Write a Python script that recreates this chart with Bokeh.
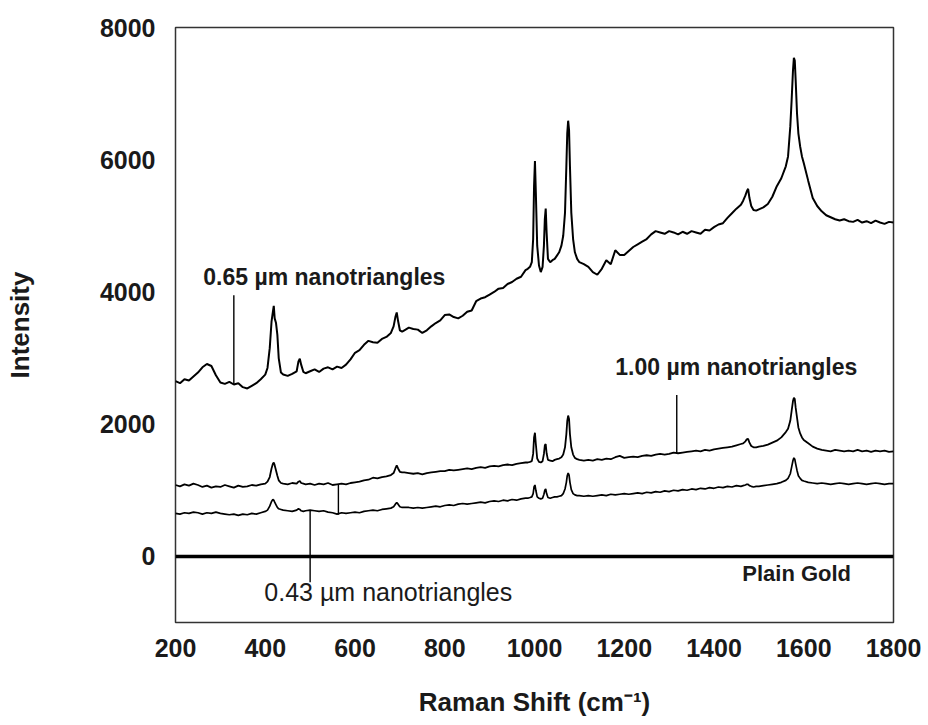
from bokeh.plotting import figure
from bokeh.models import Label, FixedTicker, Range1d
from bokeh.embed import file_html
from bokeh.resources import INLINE

# Raman shift grid (cm^-1), denser around the bands
shift = [
    200, 210, 220, 230, 240, 250, 260, 270, 280, 290, 300, 310, 320, 330, 340, 350, 360, 370, 380, 390, 400,
    405, 410, 414, 417, 419, 421, 424, 427, 430, 435, 440,
    450, 460, 470, 474, 477, 480, 485, 490,
    500, 510, 520, 530, 540, 550, 560, 570, 580, 590, 600, 610, 620, 630, 640, 650, 660, 670, 680,
    686, 690, 693, 696, 700, 705, 710,
    720, 730, 740, 750, 760, 770, 780, 790, 800, 810, 820, 830, 840, 850, 860, 870, 880, 890, 900, 910, 920, 930, 940, 950, 960, 970, 980,
    985, 990, 994, 997, 999, 1001, 1003, 1006, 1010, 1014, 1018, 1021, 1023, 1025, 1027, 1030, 1035, 1040, 1045, 1050, 1055, 1060, 1064, 1068, 1071, 1073, 1075, 1077, 1079, 1082, 1086, 1090, 1095,
    1100, 1110, 1120, 1130, 1140, 1150, 1160, 1170, 1180, 1190, 1200, 1210, 1220, 1230, 1240, 1250, 1260, 1270, 1280, 1290, 1300, 1310, 1320, 1330, 1340, 1350, 1360, 1370, 1380, 1390, 1400, 1410, 1420, 1430, 1440, 1450, 1460,
    1465, 1470, 1473, 1476, 1479, 1483, 1488, 1494,
    1500, 1510, 1520, 1530, 1540, 1550, 1560,
    1565, 1570, 1573, 1576, 1578, 1580, 1582, 1585, 1588, 1592, 1596,
    1600, 1610, 1620, 1630, 1640, 1650, 1660, 1670, 1680, 1690, 1700, 1710, 1720, 1730, 1740, 1750, 1760, 1770, 1780, 1790, 1800,
]

# 0.65 um nanotriangles
counts_065 = [
    2650, 2620, 2680, 2660, 2720, 2780, 2860, 2910, 2880, 2740, 2630, 2610, 2640, 2600, 2620, 2560, 2540, 2580, 2620, 2680, 2750,
    2850, 3150, 3550, 3700, 3790, 3600, 3530, 3350, 3000, 2780, 2750,
    2730, 2760, 2800, 2950, 2990, 2900, 2790, 2770,
    2800, 2830, 2790, 2840, 2860, 2830, 2870, 2850, 2900, 2980, 3080, 3120, 3200, 3260, 3240, 3230, 3290, 3320, 3380,
    3480, 3620, 3690, 3560, 3420, 3400, 3420,
    3460, 3440, 3430, 3380, 3420, 3480, 3530, 3570, 3650, 3660, 3620, 3600, 3640, 3700, 3720, 3860, 3900, 3920, 3960, 4000, 4050, 4060, 4120, 4150, 4200, 4230, 4330,
    4350, 4380, 4450, 4800, 5600, 5980, 5500, 4700, 4400, 4300, 4380, 4700, 5100, 5260, 4900, 4500, 4450, 4480, 4500, 4550, 4600, 4700, 4850, 5200, 5900, 6400, 6590, 6450, 5900, 5200, 4800, 4600, 4500,
    4450, 4420, 4380, 4300, 4260, 4350, 4480, 4420, 4630, 4560, 4560, 4620, 4680, 4720, 4760, 4800, 4870, 4920, 4900, 4880, 4920, 4900, 4870, 4910, 4880, 4920, 4900, 4880, 4940, 4930, 4980, 5020, 5040, 5120, 5190, 5260, 5320,
    5380, 5460, 5520, 5560, 5420, 5300, 5240, 5230,
    5250, 5280, 5330, 5440, 5600, 5720, 5900,
    6050, 6500, 6900, 7350, 7540, 7500, 7200, 6700, 6400, 6200, 6050,
    5950, 5680, 5420, 5300, 5220, 5160, 5130, 5100, 5080, 5100, 5070, 5060, 5090, 5050, 5070, 5040, 5080, 5050, 5030, 5060, 5050,
]

# 1.00 um nanotriangles
counts_100 = [
    1080, 1060, 1090, 1070, 1100, 1080, 1050, 1070, 1040, 1060, 1050, 1080, 1060, 1040, 1070, 1050, 1060, 1080, 1070, 1090, 1100,
    1130, 1200, 1330, 1400, 1420, 1380, 1300, 1220, 1150, 1110, 1100,
    1090, 1110, 1100, 1130, 1140, 1110, 1100, 1090,
    1100, 1080, 1100, 1090, 1110, 1080, 1090, 1100, 1090, 1110, 1120, 1130, 1150, 1160, 1190, 1180, 1200, 1210, 1230,
    1260, 1330, 1375, 1330, 1280, 1270, 1270,
    1260, 1250, 1260, 1240, 1260, 1270, 1280, 1290, 1290, 1310, 1300, 1310, 1320, 1330, 1320, 1340, 1350, 1340, 1360, 1370, 1360, 1380, 1390, 1380, 1400, 1410, 1420,
    1420, 1430, 1440, 1550, 1800, 1870, 1700, 1480, 1430, 1420, 1440, 1550, 1680, 1700, 1560, 1460, 1450, 1440, 1460, 1470, 1480, 1500, 1540, 1650, 1850, 2050, 2130, 2080, 1850, 1650, 1540, 1490, 1470,
    1460, 1450, 1460, 1450, 1470, 1460, 1480, 1470, 1500, 1520, 1490, 1500, 1510, 1500, 1520, 1530, 1520, 1540, 1550, 1540, 1550, 1570, 1560, 1570, 1580, 1590, 1600, 1590, 1610, 1600, 1620, 1630, 1640, 1650, 1660, 1680, 1700,
    1710, 1740, 1770, 1780, 1720, 1670, 1650, 1650,
    1660, 1670, 1690, 1720, 1750, 1800, 1880,
    1930, 2050, 2200, 2350, 2400, 2380, 2250, 2100, 1950, 1860, 1800,
    1760, 1710, 1660, 1630, 1610, 1600, 1590, 1610, 1600, 1590, 1600, 1590, 1610, 1590, 1600, 1580, 1600, 1590, 1600, 1580, 1590,
]

# 0.43 um nanotriangles
counts_043 = [
    650, 640, 660, 650, 670, 660, 640, 660, 650, 670, 650, 640, 630, 640, 620, 640, 630, 650, 640, 660, 680,
    700, 760, 830, 860, 850, 820, 780, 740, 720, 710, 700,
    690, 680, 700, 720, 710, 690, 680, 690,
    700, 690, 680, 690, 670, 660, 640, 660, 650, 660, 670, 660, 680, 690, 700, 690, 710, 720, 730,
    750, 790, 815, 790, 750, 740, 740,
    740, 730, 740, 730, 740, 750, 760, 750, 770, 780, 770, 790, 800, 790, 800, 810, 820, 810, 830, 840, 830, 850, 840, 860, 850, 870, 880,
    880, 890, 900, 950, 1050, 1080, 1000, 900, 880, 870, 880, 940, 1000, 1020, 950, 890, 880, 890, 900, 900, 910, 920, 950, 1020, 1120, 1220, 1260, 1230, 1120, 1010, 950, 930, 920,
    920, 910, 920, 910, 920, 930, 920, 940, 930, 940, 950, 940, 950, 960, 950, 970, 960, 980, 970, 990, 980, 1000, 990, 1010, 1000, 1020, 1010, 1030, 1020, 1040, 1030, 1050, 1040, 1060, 1050, 1070, 1060,
    1070, 1080, 1090, 1090, 1070, 1060, 1050, 1060,
    1060, 1070, 1080, 1090, 1100, 1120, 1150,
    1180, 1250, 1350, 1450, 1490, 1470, 1400, 1300, 1220, 1180, 1150,
    1140, 1120, 1110, 1100, 1110, 1100, 1090, 1100, 1110, 1100, 1090, 1100, 1110, 1100, 1090, 1100, 1110, 1100, 1090, 1100, 1100,
]

# plain gold substrate: flat at zero
gold_shift = [200, 1800]
gold_counts = [0, 0]

x_ticks = [200, 400, 600, 800, 1000, 1200, 1400, 1600, 1800]
y_ticks = [0, 2000, 4000, 6000, 8000]

assert len(shift) == len(counts_065) == len(counts_100) == len(counts_043)

FONT = "Liberation Sans"
INK = "#1a1a1a"

p = figure(
    width=928, height=725,
    output_backend="svg", toolbar_location=None,
    x_range=Range1d(200, 1800), y_range=Range1d(-1000, 8000),
    min_border_left=175, min_border_right=35,
    min_border_top=27, min_border_bottom=103,
)
p.title.text = ""
p.background_fill_color = "white"
p.border_fill_color = "white"
p.outline_line_color = "#333333"
p.outline_line_width = 1.5
p.xgrid.visible = False
p.ygrid.visible = False

p.xaxis.ticker = FixedTicker(ticks=x_ticks)
p.yaxis.ticker = FixedTicker(ticks=y_ticks)
for ax in (p.xaxis[0], p.yaxis[0]):
    ax.axis_line_color = None
    ax.major_tick_line_color = None
    ax.minor_tick_line_color = None
    ax.major_tick_out = 0
    ax.major_tick_in = 0
    ax.major_label_text_font = FONT
    ax.major_label_text_font_style = "bold"
    ax.major_label_text_font_size = "25px"
    ax.major_label_text_color = INK
    ax.axis_label_text_font = FONT
    ax.axis_label_text_font_style = "bold"
    ax.axis_label_text_font_size = "26px"
    ax.axis_label_text_color = INK
p.xaxis.major_label_standoff = 16
p.yaxis.major_label_standoff = 20
p.xaxis.axis_label = "Raman Shift (cm\u207b\u00b9)"
p.xaxis.axis_label_standoff = 27
p.yaxis.axis_label = "Intensity"
p.yaxis.axis_label_standoff = 62

# spectra
p.line(gold_shift, gold_counts, line_color="black", line_width=3.5)
p.line(shift, counts_043, line_color="black", line_width=1.7)
p.line(shift, counts_100, line_color="black", line_width=1.8)
p.line(shift, counts_065, line_color="black", line_width=2.0)

# leader lines for the sample labels
lead_x = [330, 1317, 500, 563]
lead_y0 = [2600, 1560, 700, 1095]
lead_y1 = [3950, 2440, -390, 630]
p.segment(x0=lead_x, y0=lead_y0, x1=lead_x, y1=lead_y1, line_color="black", line_width=1.4)


def note(x, y, text, size, style="bold"):
    p.add_layout(Label(x=x, y=y, text=text, text_font=FONT, text_font_style=style,
                       text_font_size=size, text_color=INK,
                       text_align="left", text_baseline="middle"))


note(262, 4220, "0.65 µm nanotriangles", "23px")
note(1180, 2860, "1.00 µm nanotriangles", "23px")
note(398, -546, "0.43 µm nanotriangles", "25px", style="normal")
note(1463, -259, "Plain Gold", "22px")

open("out.html", "w").write(file_html(p, INLINE))
